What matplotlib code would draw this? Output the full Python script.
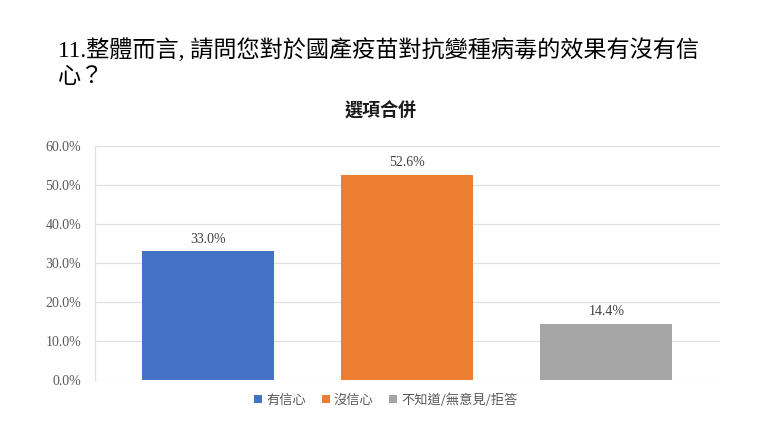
import matplotlib
matplotlib.use("Agg")
import matplotlib.pyplot as plt
from matplotlib.patches import Patch
from matplotlib.ticker import FuncFormatter, MultipleLocator

categories = ["有信心", "沒信心", "不知道/無意見/拒答"]
values = [33.0, 52.6, 14.4]
colors = ["#4472C4", "#ED7D31", "#A5A5A5"]
title_lines = ["11.整體而言, 請問您對於國產疫苗對抗變種病毒的效果有沒有信", "心？"]
subtitle = "選項合併"

plt.rcParams['font.family'] = ['Liberation Serif', 'Noto Sans CJK TC', 'DejaVu Sans']

W, H = 779, 437
fig = plt.figure(figsize=(W / 100, H / 100), dpi=100)
fig.patch.set_facecolor("white")

ax = fig.add_axes([95 / W, 1 - 380 / H, (720 - 95) / W, (380 - 146) / H])
x = list(range(len(categories)))
bars = ax.bar(x, values, width=0.663, color=colors, zorder=2)
ax.set_xlim(-0.567, 2.570)
ax.set_ylim(0, 60)
ax.yaxis.set_major_locator(MultipleLocator(10))
ax.yaxis.set_major_formatter(FuncFormatter(lambda v, p: f"{v:.1f}%"))
ax.grid(axis="y", color="#E0E0E0", linewidth=0.9, zorder=0)
for s in ["top", "right", "bottom"]:
    ax.spines[s].set_visible(False)
ax.spines["left"].set_color("#E0E0E0")
ax.spines["left"].set_linewidth(0.9)
ax.set_xticks([])
ax.tick_params(axis="y", length=0, pad=10, labelsize=10, labelcolor="#595959")
for lbl in ax.get_yticklabels():
    lbl.set_family("Liberation Serif")

for xi, v in zip(x, values):
    ax.annotate(f"{v:.1f}%", (xi, v), xytext=(0, 4), textcoords="offset points",
                ha="center", va="bottom", fontsize=10, color="#404040",
                family="Liberation Serif")

for i, line in enumerate(title_lines):
    fig.text(58 / W, 1 - (57 + 26 * i) / H, line, fontsize=16.7, color="black",
             ha="left", va="baseline",
             family=['Liberation Serif', 'Noto Sans CJK TC'])
fig.text(381 / W, 1 - 111 / H, subtitle, fontsize=13, fontweight="bold",
         ha="center", va="center", family=['Noto Sans CJK TC'], color="#1a1a1a")

handles = [Patch(facecolor=c, edgecolor="none") for c in colors]
leg = fig.legend(handles, categories, loc="center", bbox_to_anchor=(386 / W, 1 - 400 / H),
                 ncol=3, frameon=False, handlelength=0.6, handleheight=0.6,
                 handletextpad=0.3, columnspacing=1.2,
                 prop={'family': ['Noto Sans CJK TC'], 'size': 9.5})
for t in leg.get_texts():
    t.set_color("#595959")

fig.savefig("out.png", dpi=100, facecolor="white")
